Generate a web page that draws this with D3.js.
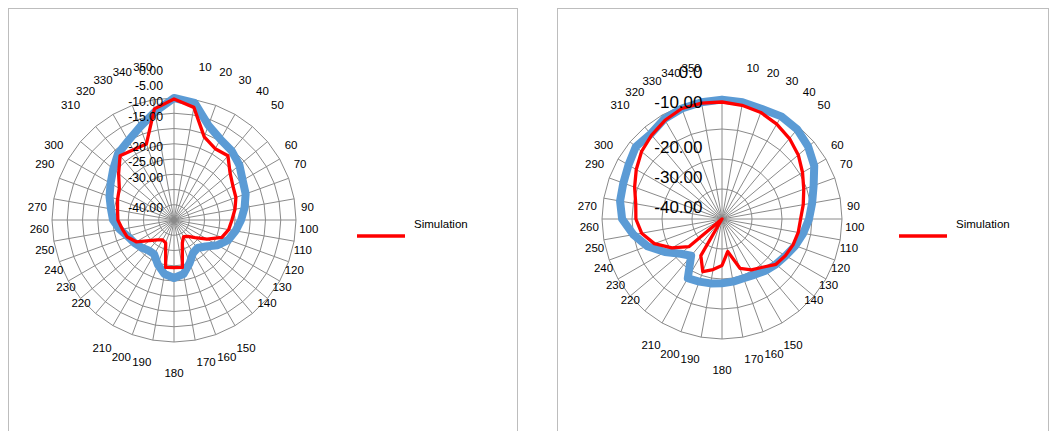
<!DOCTYPE html>
<html><head><meta charset="utf-8">
<script src="https://cdn.jsdelivr.net/npm/d3@7"></script>
<style>body{margin:0;background:#fff;} svg{display:block;font-family:"Liberation Sans",Arial,sans-serif;}</style>
</head><body><svg id="c" width="1056" height="431"></svg>
<script>
// ---- data ----
const categories = [0,10,20,30,40,50,60,70,80,90,100,110,120,130,140,150,160,170,180,190,200,210,220,230,240,250,260,270,280,290,300,310,320,330,340,350];
const categoryLabels = ["","10","20","30","40","50","60","70","","90","100","110","120","130","140","150","160","170","180","190","200","210","220","230","240","250","260","270","","290","300","310","320","330","340","350"];

const leftMeasured = [0,-1,-7,-9.5,-10.5,-12,-14,-15,-16.5,-18,-19.5,-21,-23.5,-26.5,-28,-27.5,-25,-22,-21,-22,-24.5,-27,-27,-26,-25,-24,-22,-20,-19,-17.5,-16,-14,-11.5,-10,-7.5,-4];
const leftSimulation = [-0.3,-2.5,-11,-13,-12.5,-16,-17.7,-18.4,-19.7,-21,-21.8,-23.3,-27.5,-31,-33,-33.7,-32,-24.2,-24.4,-24.2,-32,-32.5,-31.5,-29.5,-25.7,-23.7,-22.8,-21.6,-21.2,-20.3,-19.3,-16.3,-12.5,-13.4,-13.5,-3];

const rightMeasured = [-0.2,-0.5,-1,-0.5,-1,-2.5,-4.5,-7.5,-9.5,-11,-12.5,-14,-15.5,-16.5,-17.5,-18.5,-19,-18.8,-18.6,-18.2,-17.8,-17.2,-24,-22,-18,-13.5,-10,-6.7,-5.5,-5,-4,-2.5,-3,-1.5,-0.8,-0.5];
const rightSimulation = [-1,-1.5,-2.2,-3.5,-5,-6.8,-9,-11,-12.5,-13.8,-14.2,-14.8,-15.6,-16.5,-19,-20.4,-22.5,-29,-24.5,-22.9,-21.3,-25.9,-40,-25.7,-20.7,-16,-12.8,-11.3,-10.8,-9,-7,-5,-3.5,-2,-0.8,-0.8];

const leftTicks = [0,-5,-10,-15,-20,-25,-30,-40];
const leftTickLabels = ["0.00","-5.00","-10.00","-15.00","-20.00","-25.00","-30.00","-40.00"];
const leftRings = [-35,-30,-25,-20,-15,-10,-5,0];
const rightTicks = [0,-10,-20,-30,-40];
const rightTickLabels = ["0.0","-10.00","-20.00","-30.00","-40.00"];
const rightRings = [-30,-20,-10,0];
const legendLabel = "Simulation";

// ---- layout ----
const svg = d3.select("#c");
const panels = [
  {box:[8.5,8.5,509,440], cx:174, cy:220, R:122, measured:leftMeasured, sim:leftSimulation,
   ticks:leftTicks, tickLabels:leftTickLabels, rings:leftRings, valueFont:12.3, valueDx:-11,
   legX:357, legY:236},
  {box:[557.5,8.5,491,440], cx:722, cy:219, R:120, measured:rightMeasured, sim:rightSimulation,
   ticks:rightTicks, tickLabels:rightTickLabels, rings:rightRings, valueFont:17, valueDx:-19.5,
   legX:899, legY:236}
];

const angle = d3.scaleLinear().domain([0,360]).range([0,2*Math.PI]);

function catLabelPos(deg, cx, cy, R){
  const a = angle(deg), s = Math.sin(a), c = Math.cos(a);
  const ex = cx + R*s, ey = cy - R*c;
  const sg = Math.abs(s) < 1e-6 ? 0 : Math.sign(s);
  if (c > 0.57) return {x: ex + 10*sg, y: ey - 33 - 10*(1-c), anchor:"middle"};
  if (c < -0.82) return {x: ex + 11*sg, y: ey + 22 + (sg===0 ? 9 : 0), anchor:"middle"};
  return {x: ex + 5*sg, y: ey - 13 - 3*c, anchor: sg>0 ? "start" : "end"};
}

panels.forEach(p => {
  svg.append("rect").attr("x",p.box[0]).attr("y",p.box[1]).attr("width",p.box[2]).attr("height",p.box[3])
    .attr("fill","#fff").attr("stroke","#bdbdbd").attr("stroke-width",1);

  const r = d3.scaleLinear().domain([-40,0]).range([0,p.R]).clamp(true);
  const g = svg.append("g").attr("transform",`translate(${p.cx},${p.cy})`);

  // rings (polygons)
  const ringLine = d3.lineRadial().angle(d=>angle(d)).curve(d3.curveLinearClosed);
  p.rings.forEach(v => {
    g.append("path").attr("d", ringLine.radius(r(v))(categories))
      .attr("fill","none").attr("stroke","#8a8a8a").attr("stroke-width",1);
  });
  // spokes
  g.selectAll("line.spoke").data(categories).join("line")
    .attr("x1",0).attr("y1",0)
    .attr("x2",d=>r(0)*Math.sin(angle(d))).attr("y2",d=>-r(0)*Math.cos(angle(d)))
    .attr("stroke","#8a8a8a").attr("stroke-width",1);

  const series = d3.lineRadial()
    .angle((d,i)=>angle(categories[i])).radius(d=>r(d)).curve(d3.curveLinearClosed);
  g.append("path").attr("d",series(p.measured)).attr("fill","none")
    .attr("stroke","#5b9bd5").attr("stroke-width",8).attr("stroke-linejoin","round");
  g.append("path").attr("d",series(p.sim)).attr("fill","none")
    .attr("stroke","#ff0000").attr("stroke-width",3.3).attr("stroke-linejoin","round");

  // category labels
  categories.forEach((c,i) => {
    if (!categoryLabels[i]) return;
    const pos = catLabelPos(c, p.cx, p.cy, p.R);
    svg.append("text").attr("x",pos.x).attr("y",pos.y).attr("text-anchor",pos.anchor)
      .attr("dominant-baseline","central").attr("font-size",11.5).attr("fill","#000")
      .text(categoryLabels[i]);
  });

  // value axis labels
  p.ticks.forEach((v,i) => {
    const shift = v > -20 ? 27 : 12;
    svg.append("text").attr("x",p.cx + p.valueDx).attr("y",p.cy - (r(v) + shift))
      .attr("text-anchor","end").attr("dominant-baseline","central")
      .attr("font-size",p.valueFont).attr("fill","#000").text(p.tickLabels[i]);
  });

  // legend
  svg.append("line").attr("x1",p.legX).attr("x2",p.legX+48).attr("y1",p.legY).attr("y2",p.legY)
    .attr("stroke","#ff0000").attr("stroke-width",3.5);
  svg.append("text").attr("x",p.legX+57).attr("y",p.legY-12).attr("dominant-baseline","central")
    .attr("font-size",11.5).attr("fill","#000").text(legendLabel);
});
</script></body></html>
